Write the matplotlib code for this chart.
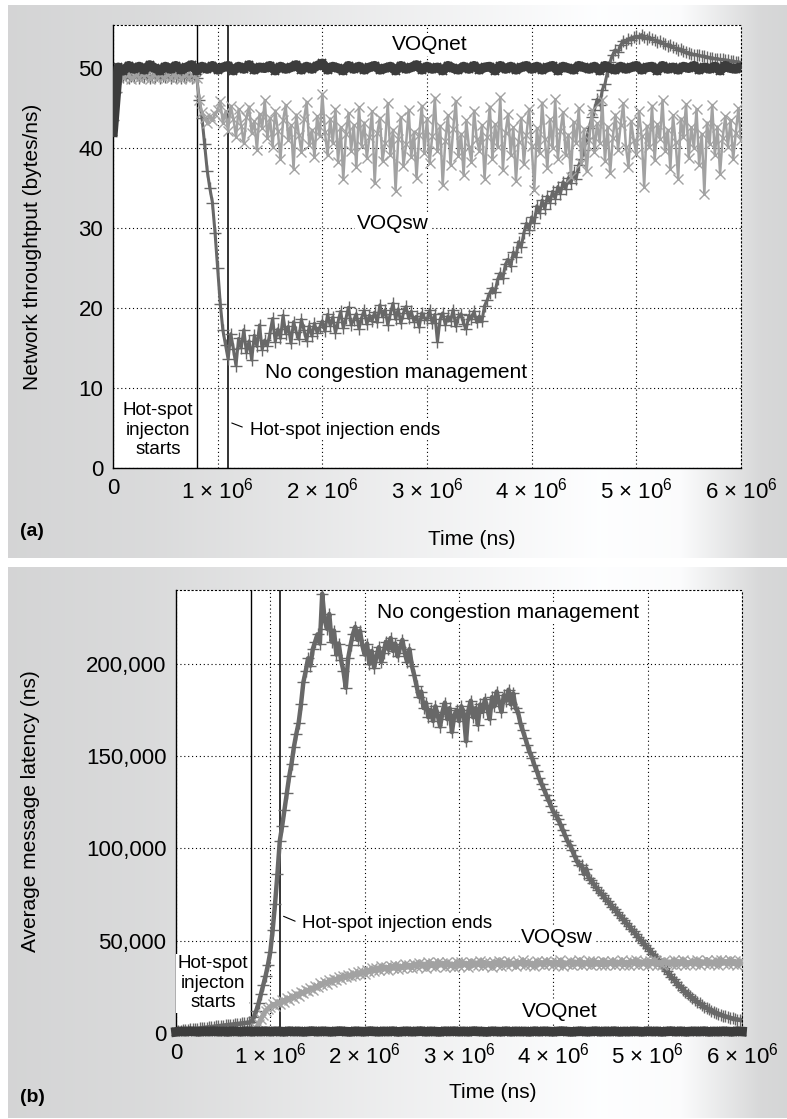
import numpy as np
import matplotlib
matplotlib.use("Agg")
import matplotlib.pyplot as plt

plt.rcParams['font.family'] = ['Liberation Sans', 'DejaVu Sans']
plt.rcParams['mathtext.fontset'] = 'custom'
plt.rcParams['mathtext.rm'] = 'Liberation Sans'
plt.rcParams['mathtext.it'] = 'Liberation Sans:italic'

# sampling times (ns): coarse for the steady VOQnet runs, fine for the noisy ones
t = np.linspace(0, 6.0e6, 121)
t_fine = np.linspace(0, 6.0e6, 241)

hs_start = 0.8e6
hs_end = 1.1e6

# ---- (a) network throughput (bytes/ns) ----
thr_voqnet = [
    42.0, 50.1, 49.7, 50.3, 49.9, 50.2, 49.8, 50.4, 50.0, 49.7,
    50.2, 49.9, 50.3, 49.8, 50.1, 50.4, 49.7, 50.2, 49.9, 50.3,
    49.8, 50.1, 50.3, 49.7, 50.2, 49.9, 50.4, 49.8, 50.1, 50.0,
    50.3, 49.7, 50.2, 49.9, 50.1, 50.4, 49.8, 50.2, 49.9, 50.3,
    50.6, 49.8, 50.2, 50.0, 49.7, 50.3, 49.9, 50.2, 49.8, 50.1,
    50.3, 49.8, 50.0, 50.2, 49.7, 50.3, 49.9, 50.1, 50.4, 49.8,
    50.2, 49.9, 50.1, 49.7, 50.3, 50.0, 49.8, 50.2, 49.9, 50.3,
    49.8, 50.1, 50.2, 49.7, 50.3, 49.9, 50.2, 49.8, 50.1, 50.3,
    49.9, 50.2, 49.8, 50.1, 50.3, 49.7, 50.2, 50.0, 49.8, 50.3,
    50.1, 49.9, 50.2, 49.7, 50.3, 50.0, 49.8, 50.2, 49.9, 50.1,
    50.3, 49.8, 50.1, 50.2, 49.7, 50.3, 49.9, 50.1, 49.8, 50.2,
    50.0, 50.3, 49.8, 50.1, 49.9, 50.2, 49.7, 50.3, 50.0, 49.9,
    50.1]

thr_voqsw = [
    44.0, 47.5, 48.9, 49.2, 48.8, 49.1, 49.3, 48.7, 49.0, 49.2, 48.8, 49.1, 48.9, 49.3, 48.7, 49.0, 49.2, 48.8, 49.1, 48.9,
    49.0, 49.2, 48.8, 49.1, 48.9, 49.3, 48.7, 49.0, 49.2, 48.8, 49.1, 48.9, 48.8, 46.0, 44.5, 43.8, 43.2, 44.0, 43.5, 44.3,
    44.8, 45.9, 43.1, 44.6, 42.2, 45.3, 43.7, 41.4, 44.9, 42.8, 40.6, 43.9, 45.2, 41.9, 43.4, 39.8, 44.3, 42.5, 46.0, 41.3,
    43.8, 40.2, 44.7, 42.1, 38.6, 43.5, 45.4, 41.0, 42.9, 37.4, 44.2, 41.7, 39.5, 43.6, 45.8, 40.4, 42.3, 38.9, 44.0, 41.5,
    46.8, 42.0, 39.1, 43.7, 40.6, 44.9, 38.3, 42.6, 36.1, 41.8, 44.4, 39.7, 42.9, 37.6, 45.1, 40.3, 43.2, 38.8, 41.4, 44.6,
    35.6, 41.9, 43.8, 38.4, 40.7, 45.6, 39.2, 42.3, 34.7, 41.1, 43.9, 37.8, 40.5, 44.8, 38.9, 42.0, 36.3, 41.6, 45.3, 39.4,
    43.7, 38.1, 41.5, 46.3, 39.6, 42.8, 35.4, 40.9, 44.1, 37.9, 42.4, 45.9, 39.0, 41.8, 36.6, 43.5, 40.2, 38.3, 44.7, 41.1,
    39.7, 42.9, 36.2, 41.4, 45.2, 38.6, 43.0, 40.1, 46.4, 37.3, 41.9, 44.3, 39.2, 42.6, 35.9, 40.8, 43.8, 38.0, 41.6, 44.9,
    40.3, 34.8, 42.5, 39.4, 45.7, 41.2, 37.5, 43.6, 40.0, 46.1, 38.7, 42.2, 44.5, 39.1, 41.7, 36.4, 43.3, 40.6, 45.0, 38.2,
    42.4, 37.1, 41.0, 44.8, 39.5, 43.1, 40.7, 46.0, 38.4, 42.7, 36.9, 41.3, 44.2, 39.8, 42.9, 45.6, 40.2, 37.7, 43.4, 41.0,
    39.3, 44.6, 41.5, 35.2, 42.8, 40.1, 45.3, 38.5, 43.0, 41.2, 46.0, 39.6, 42.3, 37.4, 44.1, 40.8, 36.2, 43.7, 41.4, 45.5,
    38.8, 42.6, 40.0, 44.9, 37.9, 41.8, 34.3, 43.2, 40.5, 45.4, 39.1, 42.7, 36.8, 41.3, 44.0, 40.2, 43.5, 38.6, 41.9, 45.0,
    41.0]

thr_nocm = [
    43.5, 47.0, 48.8, 49.0, 48.9, 49.1, 48.8, 49.0, 48.9, 49.1, 48.8, 49.0, 48.9, 49.1, 48.8, 49.0, 48.9, 49.1, 48.8, 49.0,
    48.9, 49.1, 48.8, 49.0, 48.9, 49.1, 48.8, 49.0, 48.9, 49.1, 48.8, 49.0, 48.8, 46.0, 43.8, 40.5, 37.2, 35.0, 33.2, 29.4,
    25.0, 20.5, 17.2, 15.4, 13.6, 16.8, 14.9, 12.8, 16.2, 15.0, 17.3, 14.4, 15.9, 13.5, 16.6, 15.2, 17.9, 14.8, 16.0, 15.3,
    16.9, 18.7, 15.8, 17.4, 16.2, 19.1, 16.8, 17.7, 15.6, 18.3, 17.0, 16.1, 18.6, 17.2, 15.9, 17.8, 16.5, 18.1, 16.9, 17.6,
    18.4, 17.1, 19.2, 17.8, 18.9, 16.9, 18.3, 19.6, 17.5, 18.7, 20.1, 17.9, 18.5, 19.3, 17.4, 18.8, 19.7, 18.0, 19.1, 18.4,
    19.5, 18.2, 20.4, 18.9, 19.8, 17.9, 19.3, 20.6, 18.6, 19.9, 18.1, 19.4, 20.2, 18.7, 19.6, 18.3, 19.0, 17.6, 19.4, 18.8,
    18.5, 19.7, 18.1, 19.2, 15.8, 18.6, 19.4, 17.9, 19.0, 18.4, 19.8, 17.7, 18.9, 19.3, 18.0, 17.4, 19.1, 18.6, 19.6, 18.2,
    19.0, 18.4, 20.3, 21.0, 21.9, 22.5, 22.0, 23.6, 24.4, 23.8, 25.5, 26.1, 25.2, 27.0, 26.4, 28.3, 27.6, 29.4, 30.6, 29.8,
    31.4, 30.7, 32.8, 31.9, 33.5, 32.4, 34.0, 33.2, 34.6, 33.7, 35.2, 34.3, 35.8, 34.9, 36.3, 35.6, 37.0, 36.2, 37.9, 38.6,
    39.8, 41.3, 42.5, 43.9, 44.8, 46.1, 45.4, 47.3, 48.0, 49.6, 50.8, 51.7, 52.3, 52.0, 52.9, 53.4, 53.2, 53.7, 53.5, 53.9,
    54.0, 53.8, 54.2, 53.9, 53.7, 53.9, 53.6, 53.5, 53.3, 53.4, 53.1, 53.0, 52.8, 52.9, 52.6, 52.5, 52.3, 52.4, 52.1, 52.0,
    51.9, 51.8, 51.7, 51.7, 51.6, 51.5, 51.5, 51.4, 51.3, 51.3, 51.2, 51.2, 51.1, 51.1, 51.0, 51.0, 50.9, 50.9, 50.8, 50.8,
    50.7]

# ---- (b) average message latency (ns) ----
lat_voqnet = [
    600, 900, 700, 1000, 800, 650, 950, 750, 1000, 700,
    850, 600, 950, 800, 700, 1000, 650, 900, 750, 1000,
    700, 950, 800, 650, 1000, 750, 900, 600, 850, 1000,
    700, 950, 800, 650, 900, 1000, 750, 600, 950, 800,
    700, 1000, 850, 650, 900, 750, 1000, 600, 800, 950,
    700, 850, 1000, 650, 900, 750, 600, 950, 800, 1000,
    700, 900, 650, 1000, 850, 750, 600, 950, 800, 700,
    1000, 650, 900, 750, 850, 600, 1000, 700, 950, 800,
    650, 900, 1000, 750, 600, 850, 950, 700, 800, 1000,
    650, 900, 750, 1000, 600, 850, 700, 950, 800, 650,
    1000, 750, 900, 600, 850, 1000, 700, 950, 650, 800,
    900, 750, 1000, 600, 850, 700, 950, 800, 650, 1000,
    800]

lat_voqsw = [
    700, 750, 800, 700, 750, 800, 700, 750, 800, 700, 750, 800, 700, 750, 800, 700, 750, 800, 700, 750,
    750, 800, 700, 750, 800, 700, 750, 800, 700, 750, 800, 750, 700, 800, 2500, 5000, 7500, 10000, 12000, 13200,
    14200, 15600, 14800, 16900, 15900, 17800, 16700, 18900, 17900, 19800, 19000, 21000, 20100, 22300, 21400, 23200, 22600, 24400, 23500, 25300,
    24800, 26900, 25900, 27800, 26800, 28600, 27700, 29400, 28600, 30300, 29300, 31000, 30200, 31600, 30800, 32300, 31300, 32900, 31800, 33400,
    32200, 34300, 33100, 35000, 33600, 35400, 34000, 36200, 34500, 35800, 34300, 36500, 35000, 37000, 34800, 36400, 35300, 37200, 35600, 36800,
    35400, 37600, 35900, 38100, 36200, 37400, 35300, 38300, 36500, 37700, 35800, 38500, 36700, 37900, 36000, 38200, 36400, 37500, 35700, 38600,
    36300, 38400, 36800, 37900, 35600, 38700, 36600, 38100, 37000, 39200, 36400, 38300, 36900, 37800, 35900, 38600, 37100, 39000, 36500, 38200,
    36700, 38800, 37200, 38000, 36100, 38500, 37400, 39300, 36600, 38400, 37000, 37900, 36300, 38900, 37300, 38200, 36800, 39100, 37500, 38300,
    36900, 38700, 37100, 39400, 36500, 38100, 37600, 38900, 36800, 38600, 37300, 39500, 36700, 38300, 37400, 38800, 36600, 39000, 37200, 38400,
    37000, 39200, 36800, 38500, 37500, 39100, 36900, 38600, 37300, 39300, 37100, 38400, 36700, 38900, 37600, 39400, 37000, 38700, 37400, 39000,
    36800, 38900, 37500, 39600, 37100, 38500, 36900, 39200, 37700, 38600, 37200, 39500, 36800, 38800, 37400, 39700, 37000, 38300, 37600, 39100,
    37300, 39400, 36900, 38700, 37800, 39800, 37200, 38600, 37500, 39300, 37000, 39600, 37700, 38800, 37300, 39500, 37600, 38900, 37100, 39200,
    38000]

lat_nocm = [
    1000, 1150, 1300, 1450, 1600, 1750, 1900, 2050, 2200, 2350, 2500, 2650, 2800, 2950, 3100, 3250, 3400, 3550, 3700, 3850,
    4000, 4150, 4300, 4450, 4600, 4750, 4900, 5050, 5200, 5350, 5500, 5700, 6000, 8500, 12000, 16000, 21000, 26000, 31000, 37000,
    44000, 56000, 70000, 86000, 104000, 112000, 121000, 130000, 139000, 146000, 155000, 162000, 168000, 178000, 190000, 196000, 203000, 199000, 208000, 212000,
    216000, 211000, 238000, 224000, 219000, 227000, 212000, 218000, 205000, 211000, 202000, 196000, 187000, 203000, 210000, 216000, 220000, 213000, 218000, 210000,
    205000, 211000, 200000, 207000, 198000, 204000, 209000, 201000, 206000, 212000, 208000, 214000, 207000, 211000, 204000, 209000, 213000, 206000, 201000, 208000,
    199000, 194000, 188000, 182000, 185000, 176000, 179000, 171000, 175000, 169000, 177000, 172000, 166000, 174000, 179000, 170000, 176000, 163000, 172000, 175000,
    169000, 177000, 173000, 158000, 175000, 180000, 171000, 176000, 167000, 178000, 174000, 181000, 176000, 170000, 182000, 177000, 185000, 179000, 174000, 183000,
    180000, 186000, 178000, 184000, 176000, 174000, 168000, 164000, 160000, 156000, 152000, 149000, 145000, 142000, 138000, 135000, 132000, 129000, 126000, 123000,
    120000, 118000, 116000, 113000, 110000, 107000, 104000, 102000, 99000, 96000, 93000, 91000, 91000, 86000, 89000, 84000, 83000, 81000, 79000, 77500,
    76000, 74500, 73000, 71500, 70000, 68500, 67000, 65500, 64000, 62500, 61000, 59500, 58000, 56500, 55000, 53500, 52000, 50500, 49000, 47500,
    46000, 44500, 43000, 41500, 40000, 38400, 36800, 35200, 33600, 32000, 30500, 29000, 27600, 26200, 24800, 23500, 22300, 21100, 20000, 18900,
    17900, 16900, 16000, 15100, 14300, 13500, 12800, 12100, 11500, 10900, 10400, 9900, 9400, 9000, 8600, 8200, 7900, 7600, 7300, 7100,
    6900]

x_ticks = [0, 1e6, 2e6, 3e6, 4e6, 5e6, 6e6]
x_labels = ['0'] + ['%d \u00d7 10$^{6}$' % k for k in range(1, 7)]

c_net = '#3c3c3c'
c_nocm = '#686868'
c_sw = '#a2a2a2'

W, H = 787, 1119
fig = plt.figure(figsize=(W / 100, H / 100), dpi=100)
fig.patch.set_facecolor('white')

# shaded panel backgrounds
bg = fig.add_axes([0, 0, 1, 1], zorder=-5)
bg.axis('off')
xs = np.arange(W)
shade = np.interp(xs, [0, 150, 400, 600, 680, 760, 787],
                  [0.835, 0.86, 0.94, 1.0, 0.99, 0.85, 0.84])
grad = np.dstack([shade * 0.995, shade * 0.997, shade * 1.0])
grad = np.clip(grad, 0, 1)
for y0, y1 in [(5, 558), (567, 1118)]:
    bg.imshow(grad[:, 8:, :], extent=(8, W, y1, y0), aspect='auto')
bg.set_xlim(0, W)
bg.set_ylim(H, 0)

grid_ls = (0, (1, 2.5))


def style_axes(ax):
    ax.set_facecolor('white')
    ax.grid(True, linestyle=grid_ls, color='black', linewidth=0.8)
    for s in ['top', 'right']:
        ax.spines[s].set_linestyle(grid_ls)
        ax.spines[s].set_linewidth(0.8)
    for s in ['left', 'bottom']:
        ax.spines[s].set_linewidth(1.0)
    ax.tick_params(length=0, labelsize=16, pad=7)
    ax.set_xlim(0, 6e6)
    ax.set_xticks(x_ticks)
    ax.set_xticklabels(x_labels)
    ax.axvline(hs_start, color='black', lw=1.0, zorder=1)
    ax.axvline(hs_end, color='#333333', lw=1.4, zorder=1)


box = dict(facecolor='white', edgecolor='none', pad=1)

# ---------------- panel (a) ----------------
ax1 = fig.add_axes([113 / W, 1 - 468 / H, 628 / W, 443 / H])
style_axes(ax1)
ax1.plot(t_fine, thr_nocm, color=c_nocm, marker='+', ms=8, mew=1.0, lw=2.2, zorder=2)
ax1.plot(t_fine, thr_voqsw, color=c_sw, marker='x', ms=7, mew=1.0, lw=1.8, zorder=3)
ax1.plot(t, thr_voqnet, color=c_net, marker='x', ms=6, mew=1.3, lw=7, zorder=4)
ax1.set_ylim(0, 55.4)
ax1.set_yticks([0, 10, 20, 30, 40, 50])
ax1.set_ylabel('Network throughtput (bytes/ns)', fontsize=15)
ax1.yaxis.set_label_coords(-0.113, 0.5)
ax1.set_xlabel('Time (ns)', fontsize=15)
ax1.xaxis.set_label_coords(0.572, -0.14)

ax1.text(3.03e6, 52.9, 'VOQnet', fontsize=15, ha='center', va='center', bbox=box, zorder=5)
ax1.text(2.67e6, 30.6, 'VOQsw', fontsize=15, ha='center', va='center', bbox=box, zorder=5)
ax1.text(2.7e6, 12.0, 'No congestion management', fontsize=15, ha='center', va='center',
         bbox=box, zorder=5)
ax1.text(0.43e6, 4.75, 'Hot-spot\ninjecton\nstarts', fontsize=13.5, ha='center', va='center',
         linespacing=1.2, bbox=box, zorder=5)
ax1.text(1.31e6, 4.75, 'Hot-spot injection ends', fontsize=13.5, ha='left', va='center',
         bbox=box, zorder=5)
ax1.annotate('', xy=(hs_start, 2.5), xytext=(0.72e6, 1.75),
             arrowprops=dict(arrowstyle='-', lw=0.8, color='black'))
ax1.annotate('', xy=(1.26e6, 5.0), xytext=(1.11e6, 5.75),
             arrowprops=dict(arrowstyle='-', lw=0.8, color='black'))

# ---------------- panel (b) ----------------
ax2 = fig.add_axes([176 / W, 1 - 1033 / H, 566 / W, 443 / H])
style_axes(ax2)
ax2.plot(t_fine, lat_nocm, color=c_nocm, marker='+', ms=8, mew=1.0, lw=3.2, zorder=2)
ax2.plot(t_fine, lat_voqsw, color=c_sw, marker='x', ms=7, mew=1.0, lw=3.5, zorder=3)
ax2.plot(t, lat_voqnet, color=c_net, marker='x', ms=6, mew=1.3, lw=7, zorder=4, clip_on=False)
ax2.set_ylim(0, 240000)
ax2.set_yticks([0, 50000, 100000, 150000, 200000])
ax2.set_yticklabels(['0', '50,000', '100,000', '150,000', '200,000'])
ax2.set_ylabel('Average message latency (ns)', fontsize=15)
ax2.yaxis.set_label_coords(-0.240, 0.5)
ax2.set_xlabel('Time (ns)', fontsize=15)
ax2.xaxis.set_label_coords(0.56, -0.113)

ax2.text(2.13e6, 227600, 'No congestion management', fontsize=15, ha='left', va='center',
         bbox=box, zorder=5)
ax2.text(4.04e6, 52000, 'VOQsw', fontsize=15, ha='center', va='center', bbox=box, zorder=5)
ax2.text(4.07e6, 11900, 'VOQnet', fontsize=15, ha='center', va='center', bbox=box, zorder=5)
ax2.text(0.39e6, 27000, 'Hot-spot\ninjecton\nstarts', fontsize=13.5, ha='center', va='center',
         linespacing=1.2, bbox=box, zorder=5)
ax2.text(1.336e6, 59500, 'Hot-spot injection ends', fontsize=13.5, ha='left', va='center',
         bbox=box, zorder=5)
ax2.annotate('', xy=(hs_start, 17000), xytext=(0.73e6, 15100),
             arrowprops=dict(arrowstyle='-', lw=0.8, color='black'))
ax2.annotate('', xy=(1.29e6, 60000), xytext=(1.113e6, 63800),
             arrowprops=dict(arrowstyle='-', lw=0.8, color='black'))

fig.text(20 / W, 1 - 532 / H, '(a)', fontsize=14, fontweight='bold', va='center')
fig.text(20 / W, 1 - 1097 / H, '(b)', fontsize=14, fontweight='bold', va='center')

fig.savefig('out.png', dpi=100)
